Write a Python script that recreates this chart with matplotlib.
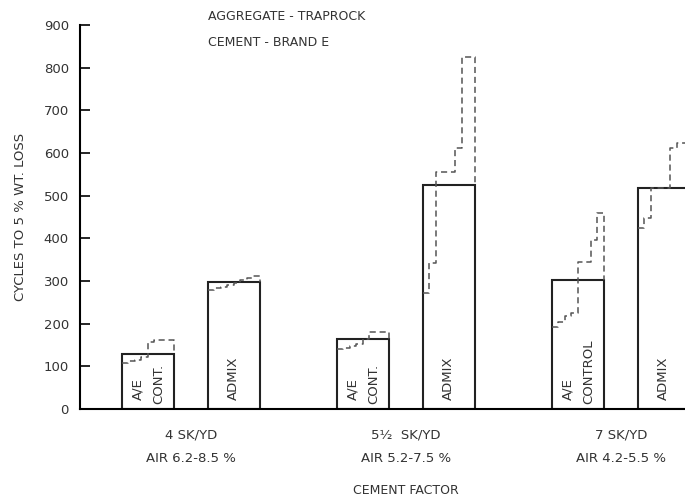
import numpy as np
import matplotlib
matplotlib.use('Agg')
import matplotlib.pyplot as plt

# cement factor groups
groups = ['4 SK/YD', '5\u00bd  SK/YD', '7 SK/YD']
air = ['AIR 6.2-8.5 %', 'AIR 5.2-7.5 %', 'AIR 4.2-5.5 %']

# average cycles to 5% wt. loss (solid bars)
ae_control = [129, 163, 302]
admix = [298, 525, 518]

# individual results (dashed steps), read left to right across each bar
ae_steps = [
    [108, 112, 116, 122, 158, 162, 162, 162],
    [140, 143, 147, 152, 164, 181, 181, 181],
    [192, 205, 218, 225, 344, 344, 396, 459],
]
admix_steps = [
    [280, 283, 287, 290, 295, 303, 308, 311],
    [272, 342, 555, 555, 555, 611, 826, 826],
    [424, 448, 518, 518, 518, 612, 623, 623],
]
ae_text = ['A/E\nCONT.', 'A/E\nCONT.', 'A/E\nCONTROL']

txt = '#333333'
plt.rcParams['font.family'] = 'DejaVu Sans'

fig = plt.figure(figsize=(6.85, 5.01), dpi=100)
ax = fig.add_axes([0.1168, 0.1836, 0.8832, 0.7665])

x = np.arange(len(groups))
off = 0.2
w = 0.242

def steps(ax, xc, vals, top):
    n = len(vals)
    edges = np.linspace(xc - w / 2, xc + w / 2, n + 1)
    xs = np.repeat(edges, 2)[1:-1]
    ys = np.repeat(vals, 2)
    xs = np.append(xs, xc + w / 2)
    ys = np.append(ys, top)
    ax.plot(xs, ys, ls=(0, (4, 2.5)), color='#555555', lw=1.1, zorder=3)

for i in range(len(groups)):
    for xc, h, st in [(x[i] - off, ae_control[i], ae_steps[i]),
                      (x[i] + off, admix[i], admix_steps[i])]:
        ax.bar(xc, h, width=w, facecolor='white', edgecolor='#222222',
               lw=1.5, zorder=2)
        steps(ax, xc, st, h)

    lines = ae_text[i].split('\n')
    ax.text(x[i] - off - 0.045, 22, lines[0], rotation=90, ha='center', va='bottom',
            fontsize=9.5, color=txt, zorder=4)
    ax.text(x[i] - off + 0.05, 12, lines[1], rotation=90, ha='center', va='bottom',
            fontsize=9.5, color=txt, zorder=4)
    ax.text(x[i] + off, 22, 'ADMIX', rotation=90, ha='center', va='bottom',
            fontsize=9.5, color=txt, zorder=4)

    ax.text(x[i], -60, groups[i], ha='center', va='center', fontsize=9.5, color=txt)
    ax.text(x[i], -115, air[i], ha='center', va='center', fontsize=9.5, color=txt)

ax.text(1.0, -190, 'CEMENT FACTOR', ha='center', va='center', fontsize=9, color=txt)

ax.set_xlim(-0.515, 2.299)
ax.set_ylim(0, 900)
ax.set_yticks(np.arange(0, 901, 100))
ax.tick_params(axis='y', direction='in', length=7, width=1.2, labelsize=9.5,
               labelcolor=txt, pad=8)
ax.set_xticks([])
for s in ['top', 'right']:
    ax.spines[s].set_visible(False)
ax.spines['left'].set_linewidth(1.5)
ax.spines['bottom'].set_linewidth(1.5)
ax.set_ylabel('CYCLES TO 5 % WT. LOSS', fontsize=9.5, color=txt, labelpad=12)

fig.text(208 / 685, 1 - 16 / 501, 'AGGREGATE - TRAPROCK', fontsize=9, color=txt,
         va='center')
fig.text(208 / 685, 1 - 43 / 501, 'CEMENT - BRAND E', fontsize=9, color=txt,
         va='center')

fig.savefig('out.png', dpi=100)
